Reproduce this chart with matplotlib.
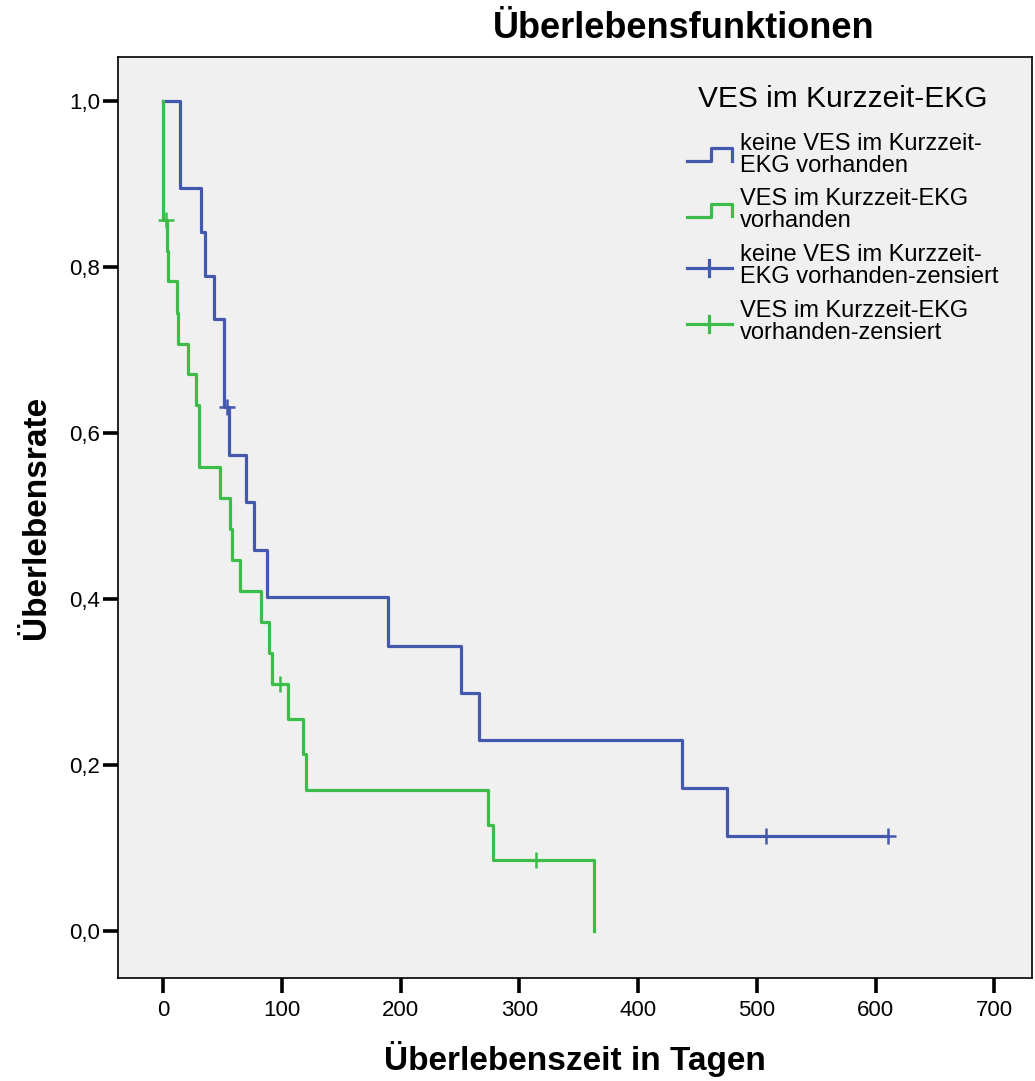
import matplotlib
matplotlib.use('Agg')
import matplotlib.pyplot as plt
from matplotlib.lines import Line2D
from matplotlib.legend_handler import HandlerBase

plt.rcParams['font.family'] = ['Liberation Sans', 'DejaVu Sans']

# Kaplan-Meier data
blue_times = [0, 14, 32, 35, 43, 51, 55.5, 69.7, 76.5, 87.4, 189.4, 250.4, 265.6, 436.8, 474.7, 610]
blue_surv = [1.0, 0.895, 0.842, 0.789, 0.737, 0.632, 0.574, 0.517, 0.459, 0.402, 0.344, 0.287, 0.230, 0.172, 0.115, 0.115]
blue_cens_t = [54, 508, 610]
blue_cens_s = [0.632, 0.115, 0.115]

green_times = [0, 0, 3.1, 4.5, 11.8, 12.6, 20.8, 27.8, 30.6, 48.3, 56.5, 58.2, 64.4, 82.6, 88.8,
               91.9, 104.8, 117.4, 120.3, 273.5, 277.7, 362.8]
green_surv = [1.0, 0.857, 0.820, 0.783, 0.745, 0.708, 0.671, 0.634, 0.559, 0.522, 0.484, 0.447, 0.410,
              0.373, 0.335, 0.298, 0.256, 0.213, 0.170, 0.128, 0.085, 0.0]
green_cens_t = [2.2, 98, 314]
green_cens_s = [0.857, 0.298, 0.085]

xticks = [0, 100, 200, 300, 400, 500, 600, 700]
yticks = [0.0, 0.2, 0.4, 0.6, 0.8, 1.0]
labels = ['keine VES im Kurzzeit-\nEKG vorhanden',
          'VES im Kurzzeit-EKG\nvorhanden',
          'keine VES im Kurzzeit-\nEKG vorhanden-zensiert',
          'VES im Kurzzeit-EKG\nvorhanden-zensiert']

BLUE = '#4458ae'
GREEN = '#3cbd4a'
LW = 2.3


class GlyphHandler(HandlerBase):
    def __init__(self, kind):
        super().__init__()
        self.kind = kind

    def create_artists(self, legend, orig_handle, xdescent, ydescent,
                       width, height, fontsize, trans):
        x0, y0 = -xdescent, -ydescent
        c = orig_handle.get_color()
        if self.kind == 'step':
            xs = [x0, x0 + 0.53 * width, x0 + 0.53 * width, x0 + width, x0 + width]
            ys = [y0 + 0.1 * height, y0 + 0.1 * height, y0 + 0.9 * height,
                  y0 + 0.9 * height, y0 + 0.15 * height]
            arts = [Line2D(xs, ys, color=c, lw=LW, transform=trans)]
        else:
            ym = y0 + 0.4 * height
            xm = x0 + 0.5 * width
            arts = [Line2D([x0, x0 + width], [ym, ym], color=c, lw=LW, transform=trans),
                    Line2D([xm, xm], [ym - 0.5 * height, ym + 0.5 * height], color=c,
                           lw=LW, transform=trans)]
        return arts


fig = plt.figure(figsize=(10.35, 10.81), dpi=100)
ax = fig.add_axes([0.114, 0.0953, 0.883, 0.8517])
ax.set_facecolor('#f0f0f0')

ax.plot(blue_times, blue_surv, drawstyle='steps-post', color=BLUE, lw=LW)
ax.plot(green_times, green_surv, drawstyle='steps-post', color=GREEN, lw=LW)
ax.plot(blue_cens_t, blue_cens_s, ls='none', marker='+', ms=12, mew=1.8, color=BLUE)
ax.plot(green_cens_t, green_cens_s, ls='none', marker='+', ms=12, mew=1.8, color=GREEN)

ax.set_xlim(-38, 731.5)
ax.set_ylim(-0.0566, 1.053)
ax.set_xticks(xticks)
ax.set_yticks(yticks)
ax.set_yticklabels([('%.1f' % v).replace('.', ',') for v in yticks])
ax.tick_params(axis='both', direction='out', length=11, width=2.6, labelsize=16,
               top=False, right=False)
ax.tick_params(axis='y', pad=2)
ax.tick_params(axis='x', pad=5)
for s in ax.spines.values():
    s.set_linewidth(1.2)

ax.set_xlabel('Überlebenszeit in Tagen', fontsize=24, fontweight='bold', labelpad=14)
ax.set_ylabel('Überlebensrate', fontsize=24, fontweight='bold', labelpad=12)
fig.text(0.661, 0.974, 'Überlebensfunktionen', fontsize=26, fontweight='bold',
         ha='center', va='center')

h1 = Line2D([], [], color=BLUE)
h2 = Line2D([], [], color=GREEN)
h3 = Line2D([], [], color=BLUE)
h4 = Line2D([], [], color=GREEN)
leg = ax.legend([h1, h2, h3, h4], labels, title='VES im Kurzzeit-EKG',
                handler_map={h1: GlyphHandler('step'), h2: GlyphHandler('step'),
                             h3: GlyphHandler('plus'), h4: GlyphHandler('plus')},
                loc='upper left', bbox_to_anchor=(0.612, 0.98), frameon=False,
                fontsize=17, title_fontsize=21.5, handlelength=1.9, handletextpad=0.35,
                labelspacing=0.5, borderaxespad=0)
leg._legend_box.align = 'center'
leg._legend_box.sep = 14
for t in leg.get_texts():
    t.set_linespacing(1.0)

fig.savefig('out.png', dpi=100, facecolor='white')
